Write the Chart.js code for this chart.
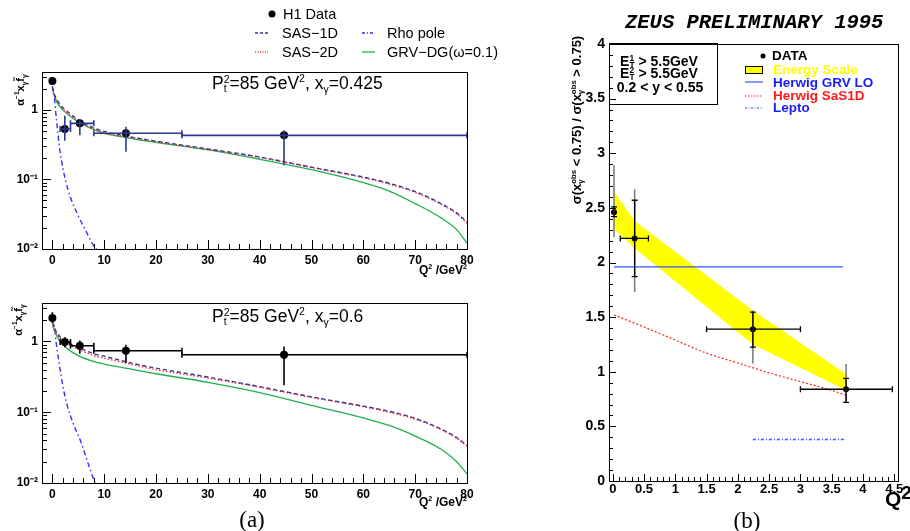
<!DOCTYPE html>
<html>
<head>
<meta charset="utf-8">
<script src="https://cdn.jsdelivr.net/npm/chart.js@4.4.0/dist/chart.umd.min.js"></script>
<style>
  body { margin: 0; width: 910px; height: 531px; background: #fff; position: relative; overflow: hidden;
         font-family: "Liberation Sans", Arial, sans-serif; color: #000; }
  canvas { position: absolute; }
  .t { position: absolute; white-space: nowrap; line-height: 1; transform: translateY(-50%); }
  .c { position: absolute; white-space: nowrap; line-height: 1; transform: translate(-50%, -50%); }
  .r { position: absolute; white-space: nowrap; line-height: 1; transform: translate(-50%, -50%) rotate(-90deg); }
  .st { display: inline-block; vertical-align: middle; line-height: 0.85; font-size: 0.6em; text-align: left; }
  sup, sub { font-size: 0.6em; line-height: 0; }
</style>
</head>
<body>

<canvas id="top" width="480" height="220" style="left:0;top:60px"></canvas>
<canvas id="bottom" width="480" height="220" style="left:0;top:290px"></canvas>
<canvas id="zeus" width="350" height="480" style="left:560px;top:30px"></canvas>

<svg width="910" height="531" style="position:absolute;left:0;top:0">
  <!-- legend (a) -->
  <circle cx="272" cy="14" r="3.5" fill="#000"/>
  <line x1="255" y1="33" x2="268" y2="33" stroke="#353599" stroke-width="1.3" stroke-dasharray="3,2"/>
  <line x1="362" y1="33" x2="375" y2="33" stroke="#3030ff" stroke-width="1.3" stroke-dasharray="3,2,1,2"/>
  <line x1="255" y1="52" x2="268" y2="52" stroke="#ff3030" stroke-width="1.3" stroke-dasharray="1,1.5"/>
  <line x1="362" y1="52" x2="375" y2="52" stroke="#20b050" stroke-width="1.3"/>
  <!-- cuts box and legend (b) -->
  <rect x="609.5" y="43.5" width="108" height="61" fill="none" stroke="#000"/>
  <circle cx="763" cy="56" r="2.5" fill="#000"/>
  <rect x="745.5" y="66.5" width="17" height="7" fill="#ffff00" stroke="#000"/>
  <line x1="745" y1="82" x2="763" y2="82" stroke="#3355ff" stroke-width="1.2"/>
  <line x1="745" y1="96" x2="763" y2="96" stroke="#ff2020" stroke-width="1.2" stroke-dasharray="1.5,1.5"/>
  <line x1="745" y1="108" x2="763" y2="108" stroke="#3355ff" stroke-width="1.2" stroke-dasharray="2,1.5,1,1.5"/>
</svg>

<!-- legend (a) -->
<div class="t" style="left:283px;top:14px;font-size:14.5px">H1 Data</div>
<div class="t" style="left:282px;top:33px;font-size:14.5px">SAS−1D</div>
<div class="t" style="left:387px;top:33px;font-size:14.5px">Rho pole</div>
<div class="t" style="left:282px;top:52px;font-size:14.5px">SAS−2D</div>
<div class="t" style="left:387px;top:52px;font-size:14.5px">GRV−DG(ω=0.1)</div>

<!-- panel (a) texts -->
<div class="t" style="left:212px;top:84px;font-size:17.5px">P<span class="st">2<br>t</span>=85 GeV<sup>2</sup>, x<sub>γ</sub>=0.425</div>
<div class="t" style="left:212px;top:317px;font-size:17.5px">P<span class="st">2<br>t</span>=85 GeV<sup>2</sup>, x<sub>γ</sub>=0.6</div>
<div class="r" style="left:20px;top:90px;font-size:11px;font-weight:bold">α<sup>−1</sup>x<sub>γ</sub>f̃<sub>γ</sub></div>
<div class="r" style="left:18px;top:320px;font-size:11px;font-weight:bold">α<sup>−1</sup>x<sub>γ</sub>f̃<sub>γ</sub></div>
<div class="t" style="left:419px;top:270px;font-size:12px;font-weight:bold">Q<sup>2</sup> /GeV<sup>2</sup></div>
<div class="t" style="left:419px;top:502px;font-size:12px;font-weight:bold">Q<sup>2</sup> /GeV<sup>2</sup></div>
<div class="c" style="left:252px;top:519px;font-size:23px;font-family:'Liberation Serif','DejaVu Serif',serif">(a)</div>

<!-- panel (b) texts -->
<div class="t" style="left:625px;top:23px;font-size:20.5px;font-family:'Liberation Mono','Courier New',monospace;font-weight:bold;font-style:italic">ZEUS PRELIMINARY 1995</div>
<div class="c" style="left:659px;top:62px;font-size:14px;font-weight:bold">E<span class="st">1<br>T</span> &gt; 5.5GeV</div>
<div class="c" style="left:659px;top:74px;font-size:14px;font-weight:bold">E<span class="st">2<br>T</span> &gt; 5.5GeV</div>
<div class="c" style="left:660px;top:87px;font-size:14px;font-weight:bold">0.2 &lt; y &lt; 0.55</div>
<div class="t" style="left:772px;top:56px;font-size:13.5px;font-weight:bold">DATA</div>
<div class="t" style="left:773px;top:70px;font-size:13.5px;font-weight:bold;color:#ffff00">Energy Scale</div>
<div class="t" style="left:773px;top:83px;font-size:13.5px;font-weight:bold;color:#1a1aff">Herwig GRV LO</div>
<div class="t" style="left:773px;top:96px;font-size:13.5px;font-weight:bold;color:#ff1a1a">Herwig SaS1D</div>
<div class="t" style="left:773px;top:108px;font-size:13.5px;font-weight:bold;color:#1a1aff">Lepto</div>
<div class="r" style="left:577px;top:120px;font-size:13px;font-weight:bold">σ(x<span class="st">obs<br>γ</span> &lt; 0.75) / σ(x<span class="st">obs<br>γ</span> &gt; 0.75)</div>
<div class="t" style="left:885px;top:498px;font-size:21px;font-weight:bold">Q<span style="font-size:19px;position:relative;top:-7px">2</span></div>
<div class="c" style="left:747px;top:520px;font-size:23px;font-family:'Liberation Serif','DejaVu Serif',serif">(b)</div>

<script>
// ---- panel (a): H1 effective parton density of the virtual photon ----
var q2Grid = [0, 0.5, 1, 1.5, 2, 3, 5, 8, 10, 15, 20, 30, 40, 50, 60, 65, 70, 75, 78, 80];

var sas1dTop = [2.1, 1.6, 1.35, 1.2, 1.08, 0.93, 0.72, 0.55, 0.49, 0.41, 0.355, 0.275, 0.21, 0.15, 0.108, 0.088, 0.067, 0.045, 0.033, 0.0245];
var sas2dTop = [2.0, 1.5, 1.25, 1.12, 1.02, 0.88, 0.69, 0.53, 0.47, 0.40, 0.35, 0.27, 0.207, 0.148, 0.106, 0.086, 0.065, 0.044, 0.032, 0.0235];
var grvTop = [2.0, 1.5, 1.25, 1.1, 1.0, 0.86, 0.67, 0.52, 0.46, 0.39, 0.34, 0.265, 0.195, 0.138, 0.09, 0.068, 0.045, 0.028, 0.019, 0.0122];

var sas1dBot = [1.9, 1.5, 1.3, 1.16, 1.08, 0.96, 0.83, 0.67, 0.62, 0.5, 0.42, 0.315, 0.23, 0.165, 0.122, 0.103, 0.082, 0.058, 0.044, 0.034];
var sas2dBot = [1.85, 1.45, 1.25, 1.12, 1.03, 0.92, 0.78, 0.63, 0.58, 0.48, 0.40, 0.305, 0.225, 0.162, 0.12, 0.1, 0.08, 0.057, 0.043, 0.033];
var grvBot = [1.7, 1.35, 1.15, 1.0, 0.92, 0.78, 0.63, 0.52, 0.48, 0.41, 0.35, 0.265, 0.19, 0.125, 0.083, 0.065, 0.046, 0.03, 0.02, 0.0135];

var rhoQ2Top = [0, 0.4, 0.6, 0.9, 1.3, 1.8, 2.5, 3.5, 5, 6.5, 8, 8.8];
var rhoTop = [2.2, 1.5, 1.0, 0.6, 0.32, 0.18, 0.1, 0.055, 0.03, 0.018, 0.011, 0.0095];
var rhoQ2Bot = [0, 0.4, 0.7, 1, 1.5, 2, 2.8, 4, 5.4, 7, 8, 8.3];
var rhoBot = [2.2, 1.6, 1.0, 0.7, 0.4, 0.24, 0.13, 0.07, 0.04, 0.018, 0.011, 0.0095];

var h1Q2 = [0, 2.4, 5.3, 14.2, 44.7];
var h1Q2Lo = [0, 1.5, 3.5, 8, 25];
var h1Q2Hi = [0, 3.5, 8, 25, 80];
var h1Top = [2.6, 0.53, 0.64, 0.46, 0.43];
var h1TopLo = [2.4, 0.36, 0.43, 0.25, 0.16];
var h1TopHi = [2.8, 0.82, 0.71, 0.57, 0.51];
var h1Bot = [2.15, 0.98, 0.87, 0.74, 0.65];
var h1BotLo = [1.85, 0.83, 0.67, 0.5, 0.24];
var h1BotHi = [2.6, 1.15, 1.03, 0.9, 0.85];

var logTickVals = [0.01, 0.1, 1];
var logTickText = ['10⁻²', '10⁻¹', '1'];

// ---- panel (b): ZEUS ratio ----
var zeusQ2 = [0.02, 0.35, 2.24, 3.73];
var zeusQ2Lo = [0.02, 0.12, 1.5, 3.0];
var zeusQ2Hi = [0.02, 0.57, 3.0, 4.47];
var zeusRatio = [2.46, 2.22, 1.39, 0.84];
var zeusStatLo = [2.42, 1.87, 1.225, 0.72];
var zeusStatHi = [2.51, 2.57, 1.545, 0.94];
var zeusTotLo = [2.23, 1.73, 1.075, 0.72];
var zeusTotHi = [2.89, 2.67, 1.56, 1.07];

var escaleQ2 = [0.02, 0.35, 2.24, 3.73];
var escaleHi = [2.65, 2.38, 1.56, 0.98];
var escaleLo = [2.31, 2.13, 1.25, 0.83];

var grvLoQ2 = [0.02, 3.68];
var grvLoRatio = [1.96, 1.96];
var sasQ2 = [0.02, 0.5, 1, 1.5, 2, 2.5, 3, 3.5, 3.73];
var sasRatio = [1.52, 1.41, 1.29, 1.17, 1.08, 0.99, 0.91, 0.83, 0.785];
var leptoQ2 = [2.24, 3.73];
var leptoRatio = [0.38, 0.38];

var FONT = '"Liberation Sans", Arial, sans-serif';

function pairs(xs, ys) {
  return xs.map(function (x, i) { return { x: x, y: ys[i] }; });
}

// ROOT prints 1 and 2 rather than 1.0 and 2.0
function plainNum(v) {
  return String(Math.round(v * 10) / 10);
}

// ROOT style frame with inward tick marks
function makeFrame(cfg) {
  return {
    id: 'frame',
    afterDraw: function (chart) {
      var ctx = chart.ctx, a = chart.chartArea, xs = chart.scales.x, ys = chart.scales.y;
      ctx.save();
      ctx.strokeStyle = '#000';
      ctx.lineWidth = 1;
      ctx.strokeRect(Math.round(a.left) + 0.5, Math.round(a.top) + 0.5, Math.round(a.right - a.left), Math.round(a.bottom - a.top));
      ctx.beginPath();
      var i, v, p, len;
      for (i = 0; ; i++) {
        v = cfg.xFrom + i * cfg.xStep;
        if (v > xs.max + 1e-9) break;
        p = Math.round(xs.getPixelForValue(v)) + 0.5;
        len = (i % cfg.xMajorEvery === 0) ? cfg.major : cfg.minor;
        ctx.moveTo(p, a.bottom);
        ctx.lineTo(p, a.bottom - len);
      }
      if (cfg.yLog) {
        for (var d = -2; d <= 0; d++) {
          for (var m = 1; m <= 9; m++) {
            v = m * Math.pow(10, d);
            if (v > ys.max) break;
            p = Math.round(ys.getPixelForValue(v)) + 0.5;
            len = m === 1 ? cfg.major : cfg.minor;
            ctx.moveTo(a.left, p);
            ctx.lineTo(a.left + len, p);
          }
        }
      } else {
        for (i = 0; ; i++) {
          v = cfg.yFrom + i * cfg.yStep;
          if (v > ys.max + 1e-9) break;
          p = Math.round(ys.getPixelForValue(v)) + 0.5;
          len = (i % cfg.yMajorEvery === 0) ? cfg.major : cfg.minor;
          ctx.moveTo(a.left, p);
          ctx.lineTo(a.left + len, p);
        }
      }
      ctx.stroke();
      ctx.restore();
    }
  };
}

// error bars, drawn through the chart scales
function makeErrorBars(sets) {
  return {
    id: 'errorBars',
    afterDatasetsDraw: function (chart) {
      var ctx = chart.ctx, xs = chart.scales.x, ys = chart.scales.y;
      ctx.save();
      sets.forEach(function (s) {
        for (var i = 0; i < s.x.length; i++) {
          var px = xs.getPixelForValue(s.x[i]);
          var py = ys.getPixelForValue(s.y[i]);
          ctx.strokeStyle = Array.isArray(s.color) ? s.color[i] : s.color;
          ctx.lineWidth = s.width;
          ctx.beginPath();
          if (s.ylo) {
            var y1 = ys.getPixelForValue(s.ylo[i]), y2 = ys.getPixelForValue(s.yhi[i]);
            ctx.moveTo(px, y1);
            ctx.lineTo(px, y2);
            if (s.capY) {
              ctx.moveTo(px - s.capY, y1); ctx.lineTo(px + s.capY, y1);
              ctx.moveTo(px - s.capY, y2); ctx.lineTo(px + s.capY, y2);
            }
          }
          if (s.xlo && s.xlo[i] !== s.xhi[i]) {
            var x1 = xs.getPixelForValue(s.xlo[i]), x2 = xs.getPixelForValue(s.xhi[i]);
            ctx.moveTo(x1, py);
            ctx.lineTo(x2, py);
            if (s.capX) {
              ctx.moveTo(x1, py - s.capX); ctx.lineTo(x1, py + s.capX);
              ctx.moveTo(x2, py - s.capX); ctx.lineTo(x2, py + s.capX);
            }
          }
          ctx.stroke();
        }
      });
      ctx.restore();
    }
  };
}

function curve(xs, ys, color, width, dash) {
  return {
    data: pairs(xs, ys),
    borderColor: color,
    borderWidth: width,
    borderDash: dash,
    pointRadius: 0,
    fill: false,
    cubicInterpolationMode: 'monotone'
  };
}

function leftPanel(id, pts, ptsLo, ptsHi, barColor, sas1d, sas2d, grv, rhoX, rhoY, padTop, xAxisH) {
  var ctx = document.getElementById(id).getContext('2d');
  return new Chart(ctx, {
    type: 'line',
    data: {
      datasets: [
        { data: pairs(h1Q2, pts), showLine: false, pointRadius: 4, pointBackgroundColor: '#000', pointBorderWidth: 0 },
        curve(q2Grid, sas1d, '#353599', 1.4, [4, 3]),
        curve(q2Grid, sas2d, '#ff3030', 1.4, [1.5, 2]),
        curve(q2Grid, grv, '#20b050', 1.3, []),
        curve(rhoX, rhoY, '#3030ff', 1.4, [5, 3, 1.5, 3])
      ]
    },
    options: {
      responsive: false,
      animation: false,
      events: [],
      layout: { padding: { left: 0, right: 13, top: padTop, bottom: 0 } },
      plugins: { legend: { display: false }, tooltip: { enabled: false } },
      scales: {
        x: {
          type: 'linear', min: -2, max: 80,
          afterFit: function (s) { s.height = xAxisH; },
          grid: { display: false, drawTicks: false },
          border: { display: false },
          ticks: { stepSize: 10, includeBounds: false, padding: 4, maxRotation: 0, autoSkip: false,
                   color: '#000', font: { family: FONT, size: 12, weight: 'bold' } }
        },
        y: {
          type: 'logarithmic', min: 0.01, max: 3.5,
          afterFit: function (s) { s.width = 42; },
          afterBuildTicks: function (s) { s.ticks = logTickVals.map(function (v) { return { value: v }; }); },
          grid: { display: false, drawTicks: false },
          border: { display: false },
          ticks: {
            padding: 4, autoSkip: false, color: '#000', font: { family: FONT, size: 12, weight: 'bold' },
            callback: function (v) { var k = logTickVals.indexOf(v); return k >= 0 ? logTickText[k] : ''; }
          }
        }
      }
    },
    plugins: [
      makeFrame({ xFrom: 0, xStep: 2, xMajorEvery: 5, yLog: true, major: 9, minor: 5 }),
      makeErrorBars([
        { x: h1Q2, y: pts, ylo: ptsLo, yhi: ptsHi, xlo: h1Q2Lo, xhi: h1Q2Hi, color: barColor, width: 1.6, capX: 3 }
      ])
    ]
  });
}

leftPanel('top', h1Top, h1TopLo, h1TopHi, ['#000', '#2b3a8c', '#2b3a8c', '#2b3a8c', '#2b3a8c'],
          sas1dTop, sas2dTop, grvTop, rhoQ2Top, rhoTop, 12, 31);
leftPanel('bottom', h1Bot, h1BotLo, h1BotHi, '#000',
          sas1dBot, sas2dBot, grvBot, rhoQ2Bot, rhoBot, 13, 27);

// panel (b)
var zctx = document.getElementById('zeus').getContext('2d');
var zeusChart = new Chart(zctx, {
  type: 'line',
  data: {
    datasets: [
      { data: pairs(zeusQ2, zeusRatio), showLine: false, pointRadius: 3, pointBackgroundColor: '#000', pointBorderWidth: 0 },
      curve(grvLoQ2, grvLoRatio, '#3355ff', 1.3, []),
      curve(sasQ2, sasRatio, '#ff2020', 1.2, [2, 2]),
      curve(leptoQ2, leptoRatio, '#3355ff', 1.4, [3, 2, 1, 2]),
      { data: pairs(escaleQ2, escaleHi), borderColor: 'rgba(0,0,0,0)', borderWidth: 0.1, pointRadius: 0, fill: false, tension: 0 },
      { data: pairs(escaleQ2, escaleLo), borderColor: 'rgba(0,0,0,0)', borderWidth: 0.1, pointRadius: 0, fill: '-1',
        backgroundColor: '#ffff00', tension: 0 }
    ]
  },
  options: {
    responsive: false,
    animation: false,
    events: [],
    layout: { padding: { left: 0, right: 12, top: 14, bottom: 0 } },
    plugins: { legend: { display: false }, tooltip: { enabled: false } },
    scales: {
      x: {
        type: 'linear', min: -0.06, max: 4.56,
        afterFit: function (s) { s.height = 29; },
        grid: { display: false, drawTicks: false },
        border: { display: false },
        ticks: { stepSize: 0.5, includeBounds: false, padding: 1, maxRotation: 0, autoSkip: false, callback: plainNum,
                 color: '#000', font: { family: FONT, size: 13, weight: 'bold' } }
      },
      y: {
        type: 'linear', min: 0, max: 4,
        afterFit: function (s) { s.width = 49; },
        grid: { display: false, drawTicks: false },
        border: { display: false },
        ticks: { stepSize: 0.5, padding: 4, autoSkip: false, callback: plainNum, color: '#000',
                 font: { family: FONT, size: 14, weight: 'bold' } }
      }
    }
  },
  plugins: [
    makeFrame({ xFrom: 0, xStep: 0.1, xMajorEvery: 5, yFrom: 0, yStep: 0.1, yMajorEvery: 5, major: 7, minor: 4 }),
    makeErrorBars([
      { x: zeusQ2, y: zeusRatio, ylo: zeusTotLo, yhi: zeusTotHi, color: '#777', width: 1.5 },
      { x: zeusQ2, y: zeusRatio, ylo: zeusStatLo, yhi: zeusStatHi, xlo: zeusQ2Lo, xhi: zeusQ2Hi,
        color: '#000', width: 1.3, capX: 3, capY: 3 }
    ])
  ]
});
</script>
</body>
</html>
